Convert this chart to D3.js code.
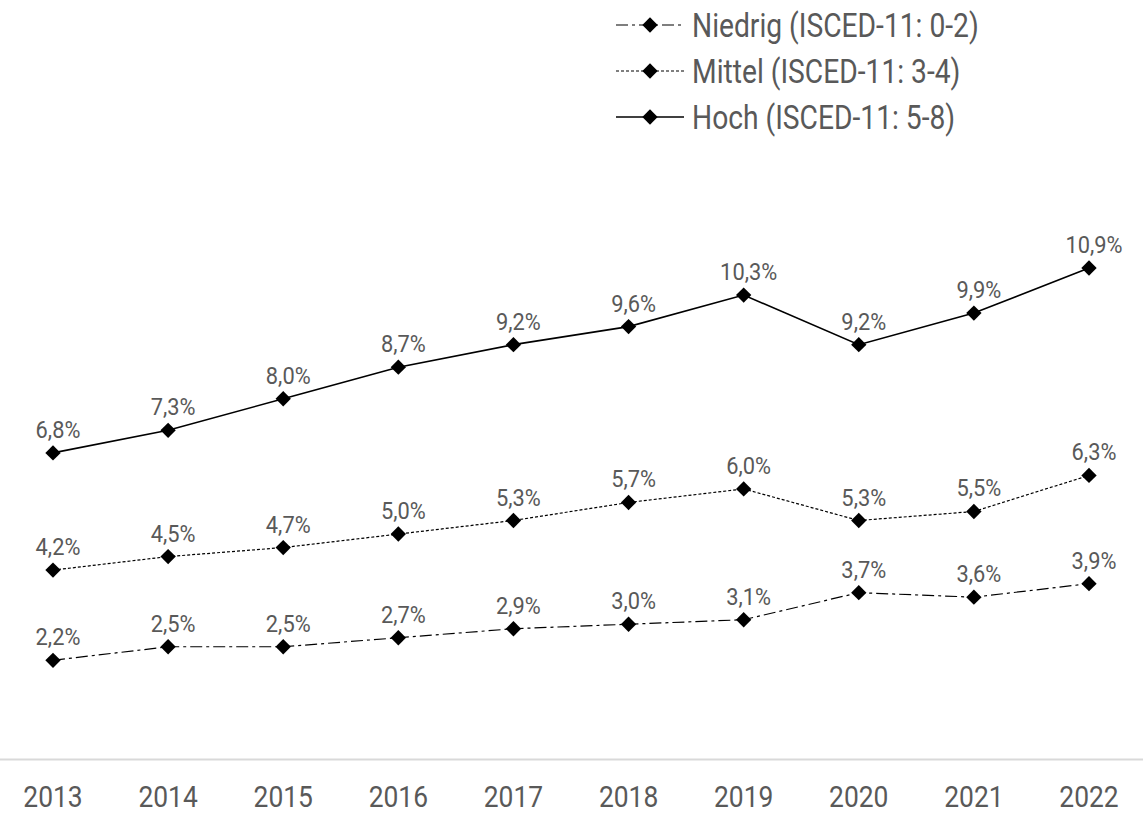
<!doctype html>
<html>
<head>
<meta charset="utf-8">
<script src="https://cdn.jsdelivr.net/npm/d3@7"></script>
<style>
  body { margin: 0; background: #fff; }
  text { font-family: Roboto, "Liberation Sans", sans-serif; fill: #595959; }
</style>
</head>
<body>
<div id="chart"></div>
<script>
// data
const years = ["2013","2014","2015","2016","2017","2018","2019","2020","2021","2022"];
const niedrig = [2.2, 2.5, 2.5, 2.7, 2.9, 3.0, 3.1, 3.7, 3.6, 3.9];
const mittel  = [4.2, 4.5, 4.7, 5.0, 5.3, 5.7, 6.0, 5.3, 5.5, 6.3];
const hoch    = [6.8, 7.3, 8.0, 8.7, 9.2, 9.6, 10.3, 9.2, 9.9, 10.9];
const seriesNames = ["Niedrig (ISCED-11: 0-2)", "Mittel (ISCED-11: 3-4)", "Hoch (ISCED-11: 5-8)"];

const width = 1143, height = 815;
const series = [
  { name: seriesNames[0], values: niedrig, dash: "12,4,3,4", sw: 1.2 },
  { name: seriesNames[1], values: mittel,  dash: "3,2",      sw: 1.2 },
  { name: seriesNames[2], values: hoch,    dash: null,       sw: 1.6 }
];

const svg = d3.select("#chart").append("svg")
  .attr("width", width).attr("height", height);

const x = d3.scalePoint().domain(years).range([53, 1089]);
const y = d3.scaleLinear().domain([0, 10.9]).range([759.5, 268]);

// baseline
svg.append("line")
  .attr("x1", 0).attr("x2", width)
  .attr("y1", y(0)).attr("y2", y(0))
  .attr("stroke", "#d9d9d9").attr("stroke-width", 1.8);

// x labels (narrow look)
svg.selectAll(".xl").data(years).enter().append("text")
  .attr("transform", d => `translate(${x(d)},807) scale(0.88,1)`)
  .attr("text-anchor", "middle")
  .attr("font-size", 30)
  .text(d => d);

const line = d3.line().x((d, i) => x(years[i])).y(d => y(d));
const diamond = d3.symbol().type(d3.symbolDiamond2).size(150);
const fmt = v => v.toFixed(1).replace(".", ",") + "%";

series.forEach(s => {
  const g = svg.append("g");
  g.append("path").datum(s.values)
    .attr("d", line).attr("fill", "none")
    .attr("stroke", "#000").attr("stroke-width", s.sw)
    .attr("stroke-dasharray", s.dash);
  g.selectAll("path.m").data(s.values).enter().append("path")
    .attr("class", "m")
    .attr("d", diamond)
    .attr("transform", (d, i) => `translate(${x(years[i])},${y(d)})`)
    .attr("fill", "#000");
  g.selectAll("text").data(s.values).enter().append("text")
    .attr("transform", (d, i) => `translate(${x(years[i]) + 5},${y(d) - 15}) scale(0.95,1)`)
    .attr("text-anchor", "middle")
    .attr("font-size", 23)
    .text(fmt);
});

// legend
const legY = [25, 71, 117];
series.forEach((s, i) => {
  const g = svg.append("g").attr("transform", `translate(616,${legY[i]})`);
  g.append("line").attr("x1", 0).attr("x2", 68)
    .attr("stroke", "#000").attr("stroke-width", s.sw)
    .attr("stroke-dasharray", s.dash);
  g.append("path").attr("d", diamond).attr("transform", "translate(34,0)").attr("fill", "#000");
  g.append("text").attr("transform", "translate(76,12) scale(0.83,1)")
    .attr("font-size", 34).text(s.name);
});
</script>
</body>
</html>
